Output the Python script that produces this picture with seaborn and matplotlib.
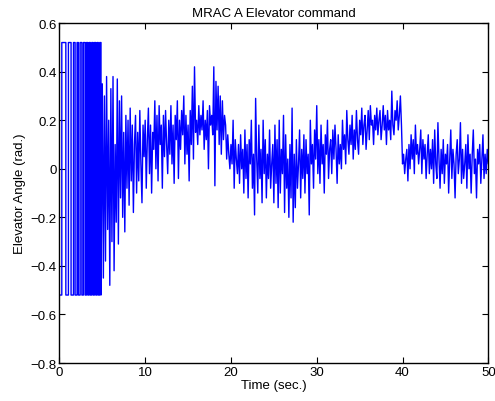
import numpy as np
import seaborn as sns
import matplotlib.pyplot as plt

# square-wave phase at the start: switching times (sec.) and level (rad.)
sq_switch = [0.0, 0.28, 0.75, 1.05, 1.36, 1.64, 1.83, 2.06, 2.22, 2.42, 2.62,
             2.80, 3.00, 3.15, 3.31, 3.46, 3.61, 3.77, 3.93, 4.08, 4.24, 4.39,
             4.54, 4.70, 4.85]
sq_level = 0.52

# noisy phase, sampled every 0.125 s from 5 s to 50 s
noise_start = 5.0
noise_step = 0.125
noise = [
    0.35, -0.45, 0.30, -0.38, 0.38, -0.25, 0.20, -0.48,
    0.33, -0.30, 0.38, -0.42, 0.10, -0.22, 0.37, -0.31,
    0.28, -0.12, 0.30, -0.20, 0.15, -0.26, 0.22, -0.08,
    0.20, -0.15, 0.25, -0.05, 0.18, -0.18, 0.10, 0.22,
    -0.10, 0.15, -0.05, 0.24, 0.02, -0.14, 0.18, 0.05,
    0.20, -0.08, 0.12, 0.25, -0.02, 0.18, -0.10, 0.15,
    0.08, 0.28, 0.00, 0.22, -0.05, 0.26, 0.10, 0.18,
    -0.08, 0.22, 0.05, 0.24, 0.10, -0.02, 0.20, 0.06,
    0.26, 0.02, 0.18, -0.06, 0.22, 0.12, 0.28, -0.04,
    0.20, 0.08, 0.24, 0.14, 0.30, 0.02, 0.22, 0.06,
    0.18, -0.05, 0.24, 0.10, 0.34, 0.04, 0.42, 0.15,
    0.20, 0.10, 0.26, 0.14, 0.22, 0.16, 0.28, 0.08,
    0.20, 0.12, 0.24, 0.00, 0.26, 0.18, 0.22, 0.14,
    0.42, -0.07, 0.36, 0.16, 0.34, 0.10, 0.30, 0.06,
    0.28, 0.12, 0.22, 0.18, 0.04, 0.14, 0.06, 0.00,
    0.10, 0.02, 0.20, -0.08, 0.12, 0.04, -0.02, 0.10,
    -0.06, 0.14, 0.00, 0.08, -0.10, 0.16, -0.04, 0.10,
    -0.12, 0.12, 0.02, 0.20, -0.08, 0.06, -0.19, 0.29,
    0.04, -0.10, 0.18, -0.04, 0.08, -0.14, 0.20, -0.02,
    0.12, -0.12, 0.06, -0.04, 0.16, -0.08, 0.02, 0.10,
    -0.14, 0.18, -0.06, 0.12, -0.16, 0.20, -0.10, 0.08,
    -0.02, 0.22, -0.18, 0.14, -0.08, 0.04, -0.20, 0.10,
    -0.12, 0.25, -0.22, 0.06, -0.16, 0.12, -0.08, 0.02,
    0.16, -0.12, 0.08, -0.04, 0.14, -0.10, 0.12, -0.02,
    0.06, -0.19, 0.20, 0.02, 0.10, -0.08, 0.16, 0.04,
    0.26, -0.02, 0.12, -0.06, 0.18, 0.02, 0.10, -0.10,
    0.14, 0.06, 0.20, -0.04, 0.08, 0.12, -0.02, 0.16,
    0.04, 0.18, 0.08, -0.06, 0.14, 0.02, 0.10, 0.00,
    0.20, 0.08, 0.14, 0.02, 0.24, 0.12, 0.06, 0.18,
    0.10, 0.22, 0.04, 0.16, 0.08, 0.24, 0.12, 0.06,
    0.20, 0.14, 0.25, 0.10, 0.18, 0.22, 0.08, 0.16,
    0.24, 0.12, 0.26, 0.18, 0.20, 0.10, 0.22, 0.16,
    0.25, 0.14, 0.20, 0.24, 0.12, 0.18, 0.26, 0.16,
    0.22, 0.10, 0.24, 0.16, 0.20, 0.12, 0.32, 0.18,
    0.14, 0.24, 0.20, 0.28, 0.16, 0.22, 0.30, 0.18,
    0.02, 0.06, -0.02, 0.04, 0.08, -0.05, 0.10, 0.00,
    0.14, 0.04, 0.12, -0.02, 0.18, 0.06, 0.10, 0.02,
    0.08, 0.16, -0.02, 0.12, 0.04, 0.10, -0.04, 0.06,
    0.14, -0.02, 0.08, 0.00, 0.12, -0.06, 0.16, 0.02,
    -0.04, 0.19, 0.04, -0.08, 0.08, -0.02, 0.12, -0.06,
    0.06, 0.02, 0.10, -0.10, 0.04, 0.16, -0.04, 0.08,
    0.02, -0.12, 0.06, 0.12, -0.02, 0.04, 0.19, -0.06,
    0.08, -0.04, 0.02, 0.10, -0.08, 0.14, 0.00, 0.06,
    -0.10, 0.06, 0.16, -0.02, 0.04, -0.12, 0.08, 0.02,
    0.10, -0.06, 0.04, 0.14, -0.04, 0.06, -0.02, 0.08,
    0.02,
]

y_ticks = [-0.8, -0.6, -0.4, -0.2, 0, 0.2, 0.4, 0.6]
y_labels = ["\u22120.8", "\u22120.6", "\u22120.4", "\u22120.2", "0", "0.2", "0.4", "0.6"]
x_ticks = [0, 10, 20, 30, 40, 50]


def main():
    # build the square wave as a step trace
    t, y = [], []
    level = -sq_level
    for i, s in enumerate(sq_switch):
        if i > 0:
            t.append(s)
            y.append(level)
            level = -level
        t.append(s)
        y.append(level)
    t_noise = noise_start + noise_step * np.arange(len(noise))
    t = np.concatenate([t, t_noise])
    y = np.concatenate([y, noise])

    sns.set_theme(style="white")
    plt.rcParams['font.family'] = ['Liberation Sans', 'DejaVu Sans']
    plt.rcParams['text.color'] = 'black'
    plt.rcParams['axes.labelcolor'] = 'black'

    fig = plt.figure(figsize=(4.95, 4.02), dpi=100)
    ax = fig.add_axes([0.12, 0.0945, 0.8665, 0.8455])
    sns.lineplot(x=t, y=y, ax=ax, estimator=None, sort=False,
                 color="#0000ff", linewidth=1.0)

    ax.set_xlim(0, 50)
    ax.set_ylim(-0.8, 0.6)
    ax.set_xticks(x_ticks)
    ax.set_xticklabels([str(v) for v in x_ticks])
    ax.set_yticks(y_ticks)
    ax.set_yticklabels(y_labels)
    ax.tick_params(direction="in", length=4, width=0.8, labelsize=9.5,
                   colors="black", top=True, right=True, bottom=True, left=True,
                   pad=2)
    for sp in ax.spines.values():
        sp.set_visible(True)
        sp.set_color("black")
        sp.set_linewidth(1.0)
    ax.set_title("MRAC A Elevator command", fontsize=9.5, pad=5, color="black")
    ax.set_xlabel("Time (sec.)", fontsize=9.5, labelpad=1, color="black")
    ax.set_ylabel("Elevator Angle (rad.)", fontsize=9.5, labelpad=3, color="black")

    plt.savefig("out.png", dpi=100)


if __name__ == "__main__":
    main()
